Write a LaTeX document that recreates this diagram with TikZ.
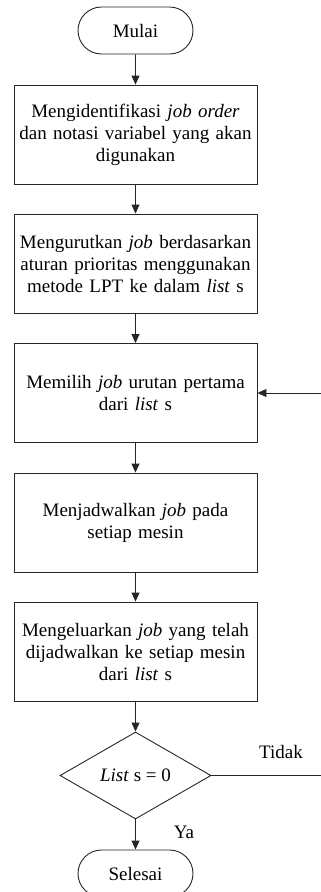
\documentclass[tikz,border=0pt]{standalone}
\usepackage{fontspec}
\setmainfont{Liberation Serif}
\usetikzlibrary{arrows.meta,shapes.geometric,shapes.misc}
\begin{document}
\begin{tikzpicture}[x=1pt,y=-1pt,
  every node/.style={font=\fontsize{19}{22}\selectfont},
  line/.style={draw=black!85, line width=0.9pt},
  arr/.style={line, -{Triangle[length=9pt,width=8pt]}},
  terminal/.style={line, rounded rectangle, minimum width=115pt, minimum height=47pt, inner sep=0pt},
  process/.style={line, rectangle, minimum width=243pt, minimum height=99pt, inner sep=0pt, align=center, text width=235pt},
  decision/.style={line, diamond, minimum width=151pt, minimum height=87pt, inner sep=0pt, aspect=1.74},
  lbl/.style={inner sep=0pt}]
\useasboundingbox (0,0) rectangle (321,892);
\node[terminal] (start) at (135.5,30.5) {Mulai};
\node[process] (p1) at (135.5,134.5) {Mengidentifikasi \textit{job order}\\ dan notasi variabel yang akan\\ digunakan};
\node[process] (p2) at (135.5,263.5) {Mengurutkan \textit{job} berdasarkan\\ aturan prioritas menggunakan\\ metode LPT ke dalam \textit{list} s};
\node[process] (p3) at (135.5,393) {Memilih \textit{job} urutan pertama\\ dari \textit{list} s};
\node[process] (p4) at (135.5,522.5) {Menjadwalkan \textit{job} pada\\ setiap mesin};
\node[process] (p5) at (135.5,651.5) {Mengeluarkan \textit{job} yang telah\\ dijadwalkan ke setiap mesin\\ dari \textit{list} s};
\node[decision] (dec) at (135.5,775.5) {\textit{List} s = 0};
\node[terminal] (stop) at (135.5,873.5) {Selesai};
\coordinate (tidakend) at (321,775.5);
\coordinate (loopin) at (321,393);
\node[lbl] (tidak) at (281,752) {Tidak};
\node[lbl] (ya) at (184,832) {Ya};
\draw[arr] (start) -- (p1);
\draw[arr] (p1) -- (p2);
\draw[arr] (p2) -- (p3);
\draw[arr] (p3) -- (p4);
\draw[arr] (p4) -- (p5);
\draw[arr] (p5) -- (dec);
\draw[arr] (dec) -- (stop);
\draw[line] (dec.east) -- (tidakend);
\draw[arr] (loopin) -- (p3.east);
\end{tikzpicture}
\end{document}
